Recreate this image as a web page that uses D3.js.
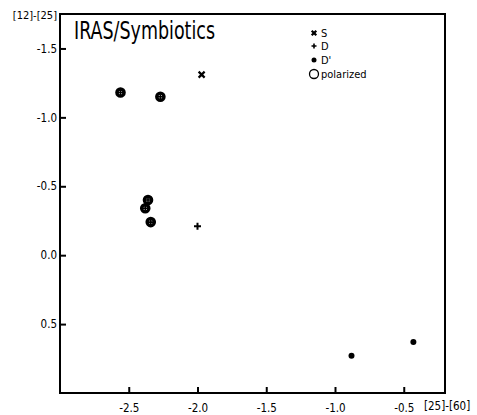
<!DOCTYPE html>
<html><head><meta charset="utf-8">
<script src="https://cdn.jsdelivr.net/npm/d3@7"></script>
<style>
html,body{margin:0;padding:0;background:#fff;}
svg{display:block;}
text{font-family:'DejaVu Sans Condensed','DejaVu Sans',sans-serif;font-stretch:condensed;fill:#000;}
</style></head>
<body>
<svg id="c" width="477" height="415"></svg>
<script>
// Data
const sX = [-1.97], sY = [-1.31];                 // S (x)
const dX = [-2.00], dY = [-0.21];                 // D (+)
const dpX = [-0.88, -0.43], dpY = [0.73, 0.63];   // D' (dot)
const polX = [-2.56, -2.27, -2.36, -2.38, -2.34]; // polarized (circled +)
const polY = [-1.18, -1.15, -0.40, -0.34, -0.24];
const xTicks = [-2.5, -2.0, -1.5, -1.0, -0.5];
const yTicks = [-1.5, -1.0, -0.5, 0.0, 0.5];
const xLabel = "[25]-[60]", yLabel = "[12]-[25]", title = "IRAS/Symbiotics";
const legendLabels = ["S", "D", "D'", "polarized"];

const svg = d3.select("#c");
const L = 60, R = 445, T = 14, B = 393;
const x = d3.scaleLinear().domain([-3.0, -0.2]).range([L, R]);
const y = d3.scaleLinear().domain([-1.75, 1.0]).range([T, B]);
const fmt = v => d3.format(".1f")(v).replace("\u2212", "-");
const FF = "'DejaVu Sans Condensed','DejaVu Sans',sans-serif";

// axes
const xa = svg.append("g").attr("transform", `translate(0,${B})`)
  .call(d3.axisBottom(x).tickValues(xTicks).tickSize(-6).tickPadding(11).tickFormat(fmt));
const ya = svg.append("g").attr("transform", `translate(${L},0)`)
  .call(d3.axisLeft(y).tickValues(yTicks).tickSize(-6).tickPadding(3).tickFormat(fmt));
[xa, ya].forEach(g => {
  g.select(".domain").remove();
  g.selectAll(".tick line").attr("stroke", "#000").attr("stroke-width", 2);
  g.selectAll(".tick text").attr("font-size", 11.5).attr("fill", "#000")
    .style("font-family", FF).style("font-stretch", "condensed");
});

// frame
svg.append("rect").attr("x", L).attr("y", T).attr("width", R - L).attr("height", B - T)
  .attr("fill", "none").attr("stroke", "#000").attr("stroke-width", 2);

// labels
svg.append("text").attr("x", 57).attr("y", 19).attr("text-anchor", "end")
  .attr("font-size", 11).text(yLabel);
svg.append("text").attr("x", 424).attr("y", 410).attr("font-size", 11.5).text(xLabel);
svg.append("text").attr("x", 74).attr("y", 39).attr("font-size", 25)
  .attr("textLength", 141).attr("lengthAdjust", "spacingAndGlyphs").text(title);

// marker drawers
function cross(g, cx, cy, s) {
  g.append("path").attr("d", `M${cx-s},${cy-s}L${cx+s},${cy+s}M${cx-s},${cy+s}L${cx+s},${cy-s}`)
    .attr("stroke", "#000").attr("stroke-width", 2.2);
}
function plus(g, cx, cy, s, w, col) {
  g.append("path").attr("d", `M${cx-s},${cy}L${cx+s},${cy}M${cx},${cy-s}L${cx},${cy+s}`)
    .attr("stroke", col || "#000").attr("stroke-width", w);
}
function dot(g, cx, cy, r) {
  g.append("circle").attr("cx", cx).attr("cy", cy).attr("r", r).attr("fill", "#000");
}
function pol(g, cx, cy) {
  g.append("circle").attr("cx", cx).attr("cy", cy).attr("r", 3.6)
    .attr("fill", "none").attr("stroke", "#000").attr("stroke-width", 3.4);
  plus(g, cx, cy, 2.5, 1.6);
}

const m = svg.append("g");
sX.forEach((v, i) => cross(m, x(v), y(sY[i]), 3));
dX.forEach((v, i) => plus(m, x(v), y(dY[i]), 3.5, 2));
dpX.forEach((v, i) => dot(m, x(v), y(dpY[i]), 3));
polX.forEach((v, i) => pol(m, x(v), y(polY[i])));

// legend
const lg = svg.append("g");
const lx = 314, ly = [33, 46, 60, 74];
cross(lg, lx, ly[0], 2.3);
plus(lg, lx, ly[1], 2.5, 1.6);
dot(lg, lx, ly[2], 2.5);
lg.append("circle").attr("cx", lx).attr("cy", ly[3]).attr("r", 4.5)
  .attr("fill", "none").attr("stroke", "#000").attr("stroke-width", 1.3);
legendLabels.forEach((t, i) => {
  lg.append("text").attr("x", 321).attr("y", ly[i] + 4)
    .attr("font-size", 11).text(t);
});
</script>
</body></html>
